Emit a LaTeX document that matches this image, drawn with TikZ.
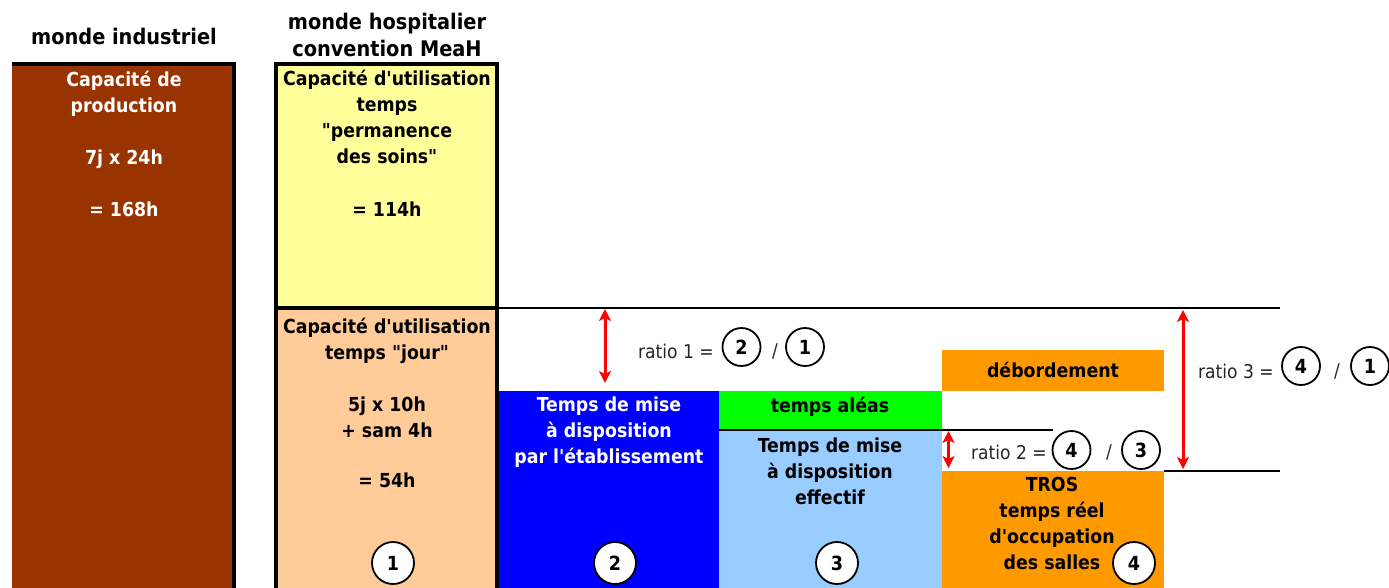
\documentclass[tikz,border=0pt]{standalone}
\usepackage{fontspec}
\setmainfont{DejaVu Sans Condensed}[Ligatures=TeXOff]
\usetikzlibrary{arrows.meta}
\definecolor{cbrown}{HTML}{993300}
\definecolor{cyellow}{HTML}{FFFF99}
\definecolor{cpeach}{HTML}{FFCC99}
\definecolor{cblue}{HTML}{0000FF}
\definecolor{cgreen}{HTML}{00FF00}
\definecolor{clblue}{HTML}{99CCFF}
\definecolor{corange}{HTML}{FF9900}
\definecolor{cred}{HTML}{FF0000}
\begin{document}
\begin{tikzpicture}[x=1pt,y=-1pt,
  hdr/.style={font=\bfseries\fontsize{21.5}{27}\selectfont, align=center, inner sep=0pt, anchor=base},
  btxt/.style={font=\bfseries\fontsize{19.3}{26}\selectfont, align=center, inner sep=0pt, anchor=base},
  rtxt/.style={font=\fontsize{19}{24}\selectfont, text=black!85, inner sep=0pt},
  circ/.style={circle, draw, line width=1.8pt, fill=white, minimum size=42pt, inner sep=0pt, font=\bfseries\fontsize{19.5}{24}\selectfont},
  rcirc/.style={circle, draw, line width=1.8pt, minimum size=38pt, inner sep=0pt, font=\bfseries\fontsize{19.5}{24}\selectfont},
  redarrow/.style={draw=cred, line width=3pt, {Stealth[length=12pt,width=12pt,inset=3pt]}-{Stealth[length=12pt,width=12pt,inset=3pt]}},
  frame/.style={draw=black, line width=3.2pt},
  hline/.style={draw=black, line width=2.8pt}]
\useasboundingbox (0,0) rectangle (1389,587);
% blocks
\fill[cbrown] (12,64) rectangle (234,590);
\draw[frame] (12,64) -- (234,64) -- (234,590);
\fill[cyellow] (276,64) rectangle (497,308);
\fill[cpeach] (276,308) rectangle (497,590);
\draw[frame] (276,590) -- (276,64) -- (497,64) -- (497,590);
\draw[frame] (276,308) -- (497,308);
\draw[hline] (497,308) -- (1280,308);
\fill[cblue] (498.5,391) rectangle (719,590);
\fill[cgreen] (719,391) rectangle (941.5,430);
\fill[clblue] (719,430) rectangle (941.5,590);
\draw[hline] (719,430) -- (1053,430);
\fill[corange] (941.5,350) rectangle (1164,390.5);
\fill[corange] (941.5,471) rectangle (1164,590);
\draw[hline] (1164,471) -- (1280,471);
% headers
\node[hdr] (h1) at (124,44) {monde industriel};
\node[hdr] (h2) at (387,56) {monde hospitalier\\convention MeaH};
% block texts
\node[btxt, text=white] (t1) at (124,216) {Capacité de\\production\\[26pt]7j x 24h\\[26pt]= 168h};
\node[btxt] (t2) at (387,216) {Capacité d'utilisation\\temps\\"permanence\\des soins"\\[27pt]= 114h};
\node[btxt] (t3) at (387,487) {Capacité d'utilisation\\temps "jour"\\[26pt]5j x 10h\\+ sam 4h\\[24pt]= 54h};
\node[btxt, text=white] (t4) at (609,463) {Temps de mise\\à disposition\\par l'établissement};
\node[btxt] (t5) at (830,412) {temps aléas};
\node[btxt] (t6) at (830,504) {Temps de mise\\à disposition\\effectif};
\node[btxt] (t7) at (1053,377) {débordement};
\node[btxt] (t8) at (1052,569) {TROS\\temps réel\\d'occupation\\des salles};
% bottom circles
\node[circ] (c1) at (393,563) {1};
\node[circ] (c2) at (615,563) {2};
\node[circ] (c3) at (837,563) {3};
\node[circ] (c4) at (1134,563) {4};
% ratio 1
\coordinate (a1t) at (605,309);
\coordinate (a1b) at (605,383);
\draw[redarrow] (a1t) -- (a1b);
\node[rtxt, anchor=west] (r1) at (638,351) {ratio 1 =};
\node[rcirc] (r1a) at (741.5,347) {2};
\node[rtxt] (r1s) at (775,351) {/};
\node[rcirc] (r1b) at (805,347) {1};
% ratio 2
\coordinate (a2t) at (948.5,431);
\coordinate (a2b) at (948.5,468);
\draw[redarrow] (a2t) -- (a2b);
\node[rtxt, anchor=west] (r2) at (971,452) {ratio 2 =};
\node[rcirc] (r2a) at (1071.5,450) {4};
\node[rtxt] (r2s) at (1109,452) {/};
\node[rcirc] (r2b) at (1141,450) {3};
% ratio 3
\coordinate (a3t) at (1183,310);
\coordinate (a3b) at (1183,469);
\draw[redarrow] (a3t) -- (a3b);
\node[rtxt, anchor=west] (r3) at (1198,371) {ratio 3 =};
\node[rcirc] (r3a) at (1301,366) {4};
\node[rtxt] (r3s) at (1337,371) {/};
\node[rcirc] (r3b) at (1370,366) {1};
\end{tikzpicture}
\end{document}
